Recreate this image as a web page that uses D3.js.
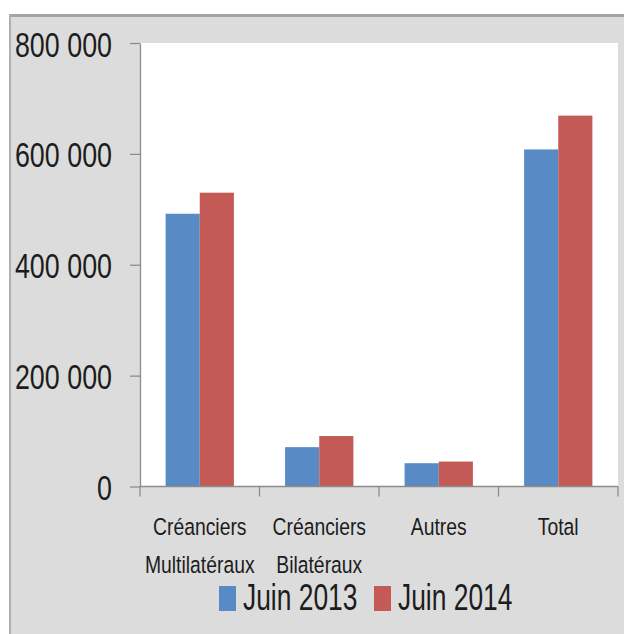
<!DOCTYPE html>
<html>
<head>
<meta charset="utf-8">
<script src="https://cdn.jsdelivr.net/npm/d3@7"></script>
<style>
  html, body { margin: 0; padding: 0; background: #ffffff; }
  svg { display: block; }
</style>
</head>
<body>
<svg id="chart" width="624" height="634"></svg>
<script>
// ---- data ----
const categories = [["Créanciers", "Multilatéraux"], ["Créanciers", "Bilatéraux"], ["Autres"], ["Total"]];
const categoryKeys = ["Créanciers Multilatéraux", "Créanciers Bilatéraux", "Autres", "Total"];
const seriesNames = ["Juin 2013", "Juin 2014"];
const juin2013 = [492000, 71000, 42000, 608000];
const juin2014 = [530000, 91000, 45000, 669000];
const yTicks = [0, 200000, 400000, 600000, 800000];
const seriesColors = ["#588AC5", "#C45A56"];

const seriesValues = [juin2013, juin2014];

// ---- layout ----
const svg = d3.select("#chart");
const plot = { left: 140, right: 618, top: 43, bottom: 486.5 };
const textColor = "#1c1c1c";
const fontFamily = "'Liberation Sans', Arial, sans-serif";

// chart area background + borders
svg.append("rect").attr("x", 9).attr("y", 14).attr("width", 615).attr("height", 620).attr("fill", "#dcdcdc");
svg.append("rect").attr("x", 9).attr("y", 14).attr("width", 615).attr("height", 3).attr("fill", "#a4a4a4");
svg.append("rect").attr("x", 9).attr("y", 14).attr("width", 2).attr("height", 620).attr("fill", "#b0b0b0");

// plot area
svg.append("rect")
  .attr("x", plot.left).attr("y", plot.top)
  .attr("width", plot.right - plot.left).attr("height", plot.bottom - plot.top)
  .attr("fill", "#ffffff");

// scales
const gap = 1.5 / 3.5;
const x = d3.scaleBand().domain(categoryKeys).range([plot.left, plot.right])
  .paddingInner(gap).paddingOuter(gap / 2);
const xs = d3.scaleBand().domain(seriesNames).range([0, x.bandwidth()]).padding(0);
const y = d3.scaleLinear().domain([0, 800000]).range([plot.bottom, plot.top]);

// bars
const rows = categoryKeys.map((c, i) => ({ key: c, values: seriesNames.map((s, j) => ({ s, j, v: seriesValues[j][i] })) }));
const groups = svg.append("g").selectAll("g").data(rows).join("g")
  .attr("transform", d => `translate(${x(d.key)},0)`);
groups.selectAll("rect").data(d => d.values).join("rect")
  .attr("x", d => xs(d.s))
  .attr("y", d => y(d.v))
  .attr("width", xs.bandwidth())
  .attr("height", d => y(0) - y(d.v))
  .attr("fill", d => seriesColors[d.j]);

// y axis
const fr = d3.formatLocale({ decimal: ",", thousands: " ", grouping: [3], currency: ["", " €"] });
const fmt = fr.format(",d");
const ySx = 0.746;
const yAxis = d3.axisLeft(y).tickValues(yTicks).tickSize(10).tickSizeOuter(0).tickFormat(fmt);
const yg = svg.append("g").attr("transform", `translate(${plot.left},0)`).call(yAxis);
yg.select(".domain").attr("stroke", "#8c8c8c").attr("stroke-width", 1.3);
yg.selectAll(".tick line").attr("stroke", "#8c8c8c").attr("stroke-width", 1.3);
yg.selectAll(".tick text")
  .attr("font-family", fontFamily).attr("font-size", 36).attr("fill", textColor)
  .attr("x", -28 / ySx).attr("dy", 13)
  .attr("transform", `scale(${ySx},1)`);

// x axis (Excel style: ticks at category boundaries)
const xg = svg.append("g");
xg.append("line").attr("x1", plot.left).attr("x2", plot.right)
  .attr("y1", y(0)).attr("y2", y(0)).attr("stroke", "#8c8c8c").attr("stroke-width", 1.3);
const outer = (x.step() - x.bandwidth()) / 2;
const boundaries = categoryKeys.map(c => x(c) - outer).concat([x(categoryKeys[categoryKeys.length - 1]) + x.bandwidth() + outer]);
xg.selectAll("line.tk").data(boundaries).join("line").attr("class", "tk")
  .attr("x1", d => d).attr("x2", d => d)
  .attr("y1", y(0)).attr("y2", y(0) + 10)
  .attr("stroke", "#8c8c8c").attr("stroke-width", 1.3);

// category labels
const xSx = 0.83;
const lab = svg.append("g");
categories.forEach((lines, i) => {
  const cx = x(categoryKeys[i]) + x.bandwidth() / 2;
  lines.forEach((t, k) => {
    lab.append("text")
      .attr("transform", `translate(${cx},${535 + k * 37.7}) scale(${xSx},1)`)
      .attr("text-anchor", "middle")
      .attr("font-family", fontFamily).attr("font-size", 23.3).attr("fill", textColor)
      .text(t);
  });
});

// legend
const lSx = 0.70;
const legendItems = [{ x: 219, name: seriesNames[0], color: seriesColors[0] }, { x: 374, name: seriesNames[1], color: seriesColors[1] }];
const lg = svg.append("g");
legendItems.forEach(it => {
  lg.append("rect").attr("x", it.x).attr("y", 586).attr("width", 17).attr("height", 25).attr("fill", it.color);
  lg.append("text")
    .attr("transform", `translate(${it.x + 24},610) scale(${lSx},1)`)
    .attr("font-family", fontFamily).attr("font-size", 37.7).attr("fill", textColor)
    .text(it.name);
});
</script>
</body>
</html>
